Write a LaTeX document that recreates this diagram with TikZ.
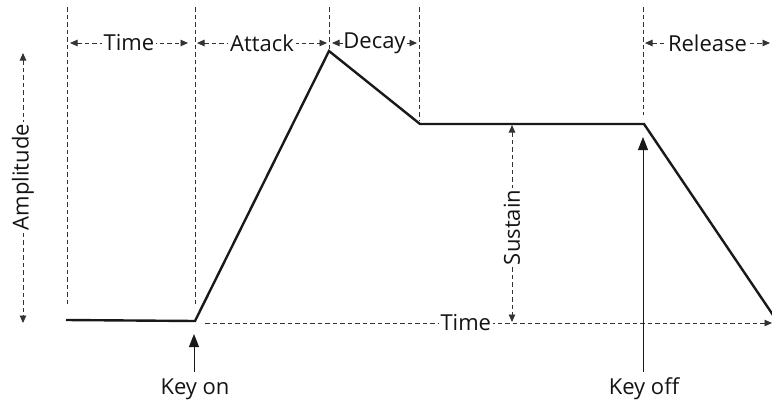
\documentclass[tikz,border=0pt]{standalone}
\usepackage{fontspec}
\setmainfont{Open Sans}
\usetikzlibrary{arrows.meta}
\begin{document}
\begin{tikzpicture}[x=1pt,y=-1pt,
  guide/.style={dash pattern=on 4.5pt off 3pt, line width=0.9pt, draw=black!80},
  dimarrow/.style={guide, {Triangle[length=7.5pt,width=6.5pt]}-{Triangle[length=7.5pt,width=6.5pt]}},
  axisarrow/.style={guide, -{Triangle[length=7.5pt,width=6.5pt]}},
  env/.style={line width=2.4pt, line join=miter, draw=black!90},
  lbl/.style={font=\fontsize{22}{26}\selectfont, fill=white, inner sep=2pt, text=black!92},
  keylbl/.style={font=\fontsize{22}{26}\selectfont, inner sep=1pt, text=black!92},
  keyarrow/.style={line width=1pt, draw=black!90, -{Triangle[length=13pt,width=10pt]}},
]
\useasboundingbox (0,0) rectangle (772,402);

% envelope points
\coordinate (e0) at (66,320);
\coordinate (e1) at (195,321);
\coordinate (e2) at (329,51);
\coordinate (e3) at (420,124);
\coordinate (e4) at (644,124);
\coordinate (e5) at (773,315);

% vertical guide ends
\coordinate (v1t) at (67,7);   \coordinate (v1b) at (67,305);
\coordinate (v2t) at (195,7);  \coordinate (v2b) at (195,305);
\coordinate (v3t) at (329,7);  \coordinate (v3b) at (329,49);
\coordinate (v4t) at (419,7);  \coordinate (v4b) at (419,121);
\coordinate (v5t) at (643,7);  \coordinate (v5b) at (643,115);

\draw[guide] (v1t) -- (v1b);
\draw[guide] (v2t) -- (v2b);
\draw[guide] (v3t) -- (v3b);
\draw[guide] (v4t) -- (v4b);
\draw[guide] (v5t) -- (v5b);

% top dimension arrows
\coordinate (t1a) at (70,43);  \coordinate (t1b) at (188,43);
\coordinate (t2a) at (197,43); \coordinate (t2b) at (327,43);
\coordinate (t3a) at (332,43); \coordinate (t3b) at (417,43);
\coordinate (t4a) at (645,43); \coordinate (t4b) at (770,43);
\draw[dimarrow] (t1a) -- node[lbl] (ltime) {Time} (t1b);
\draw[dimarrow] (t2a) -- node[lbl] (lattack) {Attack} (t2b);
\draw[dimarrow] (t3a) -- node[lbl,inner sep=0.5pt] (ldecay) {Decay} (t3b);
\draw[dimarrow] (t4a) -- node[lbl] (lrelease) {Release} (t4b);

% amplitude
\coordinate (a1) at (23,53); \coordinate (a2) at (23,323);
\draw[dimarrow] (a1) -- node[lbl,pos=0.46,rotate=90] (lamp) {Amplitude} (a2);

% time axis
\coordinate (x0) at (205,323); \coordinate (x1) at (772,323);
\draw[axisarrow] (x0) -- node[lbl,pos=0.46] (ltaxis) {Time} (x1);

% sustain
\coordinate (s1) at (512,125); \coordinate (s2) at (512,322);
\draw[dimarrow] (s1) -- node[lbl,pos=0.52,rotate=90] (lsus) {Sustain} (s2);

% envelope
\draw[env] (e0) -- (e1) -- (e2) -- (e3) -- (e4) -- (e5);

% key on / key off
\node[keylbl] (keyon) at (195,389) {Key on};
\node[keylbl] (keyoff) at (644,389) {Key off};
\coordinate (kon) at (194,334);
\coordinate (koff) at (643,137);
\coordinate (konb) at (194,372);
\coordinate (koffb) at (643,372);
\draw[keyarrow] (konb) -- (kon);
\draw[keyarrow] (koffb) -- (koff);
\end{tikzpicture}
\end{document}
